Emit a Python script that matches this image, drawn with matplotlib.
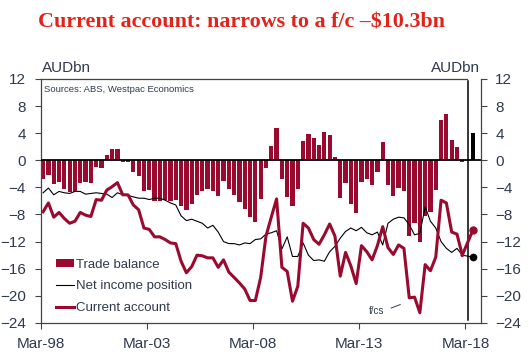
import numpy as np
import pandas as pd
import matplotlib
matplotlib.use("Agg")
import matplotlib.pyplot as plt
from matplotlib.patches import Patch
from matplotlib.lines import Line2D

plt.rcParams['font.family'] = ['Liberation Sans', 'DejaVu Sans']

# quarterly data, Mar-98 .. Dec-17, AUDbn
quarters = pd.period_range("1998Q1", "2017Q4", freq="Q")

trade_balance = [
    -2.8, -2.2, -3.5, -3.2, -4.3, -4.7, -4.7, -3.3, -3.2, -3.4,
    -1.0, -1.2, 0.8, 1.7, 1.7, -0.2, -0.2, -1.7, -2.3, -4.6,
    -4.4, -6.0, -6.0, -5.8, -6.0, -5.8, -6.7, -7.4, -6.4, -5.1,
    -4.6, -4.3, -4.6, -5.3, -3.0, -4.3, -5.2, -6.1, -7.2, -8.4,
    -9.1, -5.7, -1.1, 2.1, 4.8, -2.8, -5.4, -6.8, -4.3, 2.9,
    3.9, 3.3, 2.3, 4.1, 3.7, 0.5, -5.6, -3.3, -6.4, -7.8,
    -3.2, -2.8, -3.7, -1.7, 2.7, -3.7, -5.3, -4.1, -4.6, -11.2,
    -9.3, -12.0, -8.3, -7.6, -4.4, 6.0, 6.8, 3.0, 2.0, -0.2]

net_income = [
    -4.8, -4.1, -5.1, -4.6, -4.8, -4.9, -4.6, -4.6, -5.0, -4.9,
    -4.8, -4.9, -5.0, -5.5, -4.8, -5.1, -5.2, -5.4, -5.6, -5.6,
    -5.8, -5.6, -5.6, -5.9, -6.3, -6.6, -8.2, -8.9, -8.7, -9.0,
    -9.3, -10.0, -9.6, -10.6, -12.0, -12.3, -12.3, -12.5, -12.2, -12.3,
    -11.7, -11.6, -10.9, -10.7, -10.4, -13.1, -11.3, -14.2, -14.2, -12.2,
    -14.0, -14.8, -14.7, -14.9, -13.5, -12.7, -11.5, -10.5, -10.0, -10.4,
    -9.9, -10.7, -11.0, -10.6, -12.5, -9.3, -8.7, -8.4, -8.5, -9.5,
    -11.0, -10.8, -6.9, -9.0, -10.0, -12.0, -13.0, -13.6, -13.0, -14.0]

current_account = [
    -7.6, -6.3, -8.4, -7.7, -8.6, -9.3, -9.0, -7.7, -8.1, -8.3,
    -5.8, -5.9, -4.4, -3.9, -3.3, -5.1, -5.1, -6.6, -7.3, -10.0,
    -10.2, -11.3, -11.3, -11.7, -12.2, -12.3, -14.9, -16.6, -15.7, -14.0,
    -14.1, -14.4, -14.4, -15.8, -14.7, -16.5, -17.3, -18.1, -19.0, -20.7,
    -20.7, -17.3, -11.2, -8.4, -5.7, -15.8, -16.4, -20.8, -18.6, -9.3,
    -10.0, -11.7, -12.4, -11.0, -9.4, -11.2, -17.1, -13.6, -15.6, -18.2,
    -12.6, -13.5, -14.7, -12.6, -9.8, -12.9, -13.9, -12.5, -13.0, -20.3,
    -20.2, -22.5, -15.4, -16.3, -14.3, -5.9, -6.3, -10.6, -10.9, -14.0]

# forecast quarter (sits two slots after the last actual)
fc_slot = len(quarters) + 1
tb_fc, ni_fc, ca_fc = 4.0, -14.3, -10.3

xtick_pos = [0, 20, 40, 60, 80]
xtick_labels = ["Mar-98", "Mar-03", "Mar-08", "Mar-13", "Mar-18"]
yticks = np.arange(-24, 13, 4)

RED = '#9a0a2e'
TXT = '#2f3a4f'
SPINE = '#444444'

x = np.arange(len(quarters)) + 0.4
xf = fc_slot + 0.4

fig = plt.figure(figsize=(5.29, 3.62), dpi=100)
ax = fig.add_axes([0.0775, 0.108, 0.8325, 0.674])

ax.bar(x, trade_balance, width=0.8, color=RED, zorder=2)
ax.bar([xf], [tb_fc], width=0.8, color='black', zorder=2)
ax.axhline(0, color='black', lw=1.3, zorder=3)

ax.plot(x, net_income, color='black', lw=0.8, zorder=4)
ax.plot([x[-1], xf], [net_income[-1], ni_fc], color='black', lw=0.8, zorder=4)
ax.plot([xf], [ni_fc], 'o', color='black', ms=4.5, zorder=5)

ax.plot(x, current_account, color=RED, lw=2.2, zorder=4)
ax.plot([x[-1], xf], [current_account[-1], ca_fc], color=RED, lw=2.2, zorder=4)
ax.plot([xf], [ca_fc], 'o', color=RED, ms=5, zorder=5)

# actual / forecast divider
xdiv = (x[-1] + xf) / 2
ax.plot([xdiv, xdiv], [-23.6, 11.7], color='black', lw=1.1, zorder=3)

ax.set_xlim(0, 83)
ax.set_ylim(-24, 12)
ax.set_xticks(xtick_pos)
ax.set_xticklabels(xtick_labels)
ax.set_yticks(yticks)
ax.tick_params(axis='x', direction='out', length=4, width=0.8, color=SPINE,
               labelsize=11, labelcolor=TXT, pad=6)
ax.tick_params(axis='y', direction='out', length=4, width=0.8, color=SPINE,
               labelsize=11, labelcolor=TXT, pad=7)

for s in ['left', 'bottom', 'top']:
    ax.spines[s].set_color(SPINE)
    ax.spines[s].set_linewidth(0.9)
ax.spines['top'].set_bounds(0, 80.2)
ax.spines['right'].set_visible(False)

ax2 = ax.twinx()
ax2.set_ylim(-24, 12)
ax2.set_yticks(yticks)
ax2.tick_params(axis='y', direction='out', length=4, width=0.8, color=SPINE,
                labelsize=11, labelcolor=TXT, pad=6)
for s in ['left', 'bottom', 'top']:
    ax2.spines[s].set_visible(False)
ax2.spines['right'].set_color(SPINE)
ax2.spines['right'].set_linewidth(0.9)

ax.text(0.003, 1.015, "AUDbn", transform=ax.transAxes, fontsize=11,
        color=TXT, ha='left', va='bottom')
ax.text(0.997, 1.015, "AUDbn", transform=ax.transAxes, fontsize=11,
        color=TXT, ha='right', va='bottom')
ax.text(0.007, 0.955, "Sources: ABS, Westpac Economics", transform=ax.transAxes,
        fontsize=6.8, color=TXT, ha='left', va='center')

ax.text(63.2, -22.2, "f/cs", fontsize=7, color=TXT, ha='center', va='center')
ax.plot([66.0, 67.7], [-21.8, -21.3], color=TXT, lw=0.7)

handles = [Patch(facecolor=RED, edgecolor='none'),
           Line2D([], [], color='black', lw=0.8),
           Line2D([], [], color=RED, lw=2.2)]
ax.legend(handles, ["Trade balance", "Net income position", "Current account"],
          loc='lower left', bbox_to_anchor=(0.035, 0.035), frameon=False,
          fontsize=9.5, labelcolor=TXT, handlelength=1.3, handleheight=0.6,
          handletextpad=0.15, labelspacing=0.75, borderpad=0, borderaxespad=0)

fig.text(0.4565, 0.937, "Current account: narrows to a f/c \u2013$10.3bn",
         family=['Liberation Serif', 'DejaVu Serif'], fontweight='bold',
         fontsize=15.8, color='#e2231a', ha='center', va='center')

fig.savefig("out.png", dpi=100)
